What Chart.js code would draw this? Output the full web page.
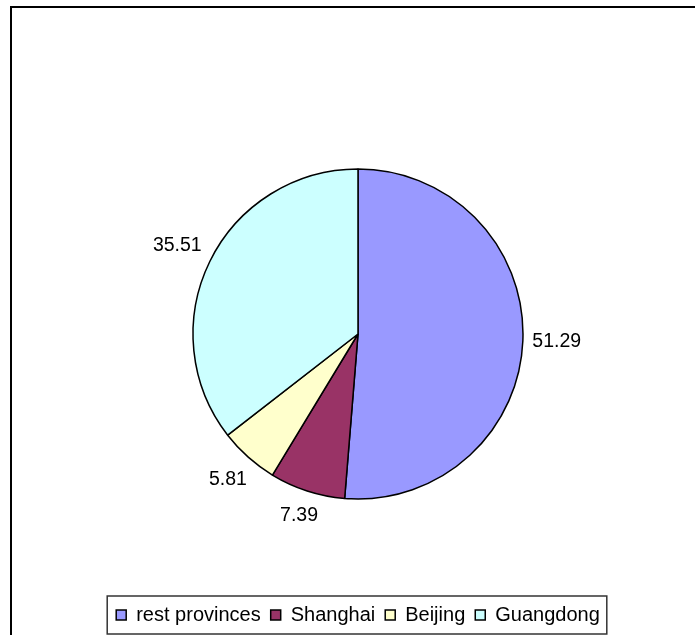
<!DOCTYPE html>
<html>
<head>
<meta charset="utf-8">
<script src="https://cdn.jsdelivr.net/npm/chart.js@4/dist/chart.umd.min.js"></script>
<style>
  body { margin: 0; background: #fff; }
  canvas { display: block; }
</style>
</head>
<body>
<canvas id="myChart" width="695" height="635"></canvas>
<script>
// shares by region (percent)
const regions = ['rest provinces', 'Shanghai', 'Beijing', 'Guangdong'];
const shares = [51.29, 7.39, 5.81, 35.51];
const colours = ['#9999FF', '#993366', '#FFFFCC', '#CCFFFF'];

const FONT = "'Liberation Sans', Arial, sans-serif";

//outer frame, like the excel chart border
const framePlugin = {
  id: 'frame',
  beforeDraw: (chart) => {
    const ctx = chart.ctx;
    ctx.save();
    ctx.fillStyle = '#fff';
    ctx.fillRect(0, 0, chart.width, chart.height);
    ctx.strokeStyle = '#000';
    ctx.lineWidth = 2;
    ctx.beginPath();
    ctx.moveTo(11, chart.height);
    ctx.lineTo(11, 7);
    ctx.lineTo(chart.width, 7);
    ctx.stroke();
    ctx.restore();
  }
};

//value labels outside each slice
const labelPlugin = {
  id: 'sliceLabels',
  afterDatasetsDraw: (chart) => {
    const ctx = chart.ctx;
    const meta = chart.getDatasetMeta(0);
    ctx.save();
    ctx.font = '19.5px ' + FONT;
    ctx.fillStyle = '#000';
    ctx.textAlign = 'center';
    ctx.textBaseline = 'middle';
    meta.data.forEach((arc, i) => {
      const p = arc.getProps(['x', 'y', 'startAngle', 'endAngle', 'outerRadius'], true);
      const mid = (p.startAngle + p.endAngle) / 2;
      const txt = shares[i].toFixed(2);
      const w = ctx.measureText(txt).width;
      const h = 24;
      const c = Math.cos(mid), s = Math.sin(mid);
      const r = p.outerRadius + 9 + Math.abs(c) * w / 2 + Math.abs(s) * h / 2;
      ctx.fillText(txt, p.x + c * r, p.y + s * r);
    });
    ctx.restore();
  }
};

//box round the legend
const legendBoxPlugin = {
  id: 'legendBox',
  afterDraw: (chart) => {
    const boxes = chart.legend.legendHitBoxes;
    if (!boxes || !boxes.length) return;
    const left = Math.min(...boxes.map(b => b.left)) - 9;
    const right = Math.max(...boxes.map(b => b.left + b.width)) + 7;
    const top = boxes[0].top - 9;
    const bottom = boxes[0].top + boxes[0].height + 9;
    const ctx = chart.ctx;
    ctx.save();
    ctx.strokeStyle = '#333';
    ctx.lineWidth = 1.5;
    ctx.strokeRect(left, top, right - left, bottom - top);
    ctx.restore();
  }
};

const data = {
  labels: regions,
  datasets: [{
    data: shares,
    backgroundColor: colours,
    borderColor: '#000',
    borderWidth: 1.5,
    radius: 165
  }]
};

const config = {
  type: 'pie',
  data: data,
  plugins: [framePlugin, labelPlugin, legendBoxPlugin],
  options: {
    responsive: false,
    animation: false,
    layout: {
      padding: { left: 21, right: 0, top: 73, bottom: 0 }
    },
    plugins: {
      tooltip: { enabled: false },
      legend: {
        position: 'bottom',
        labels: {
          boxWidth: 10,
          boxHeight: 10,
          padding: 10,
          color: '#000',
          font: { family: FONT, size: 20 }
        }
      }
    }
  }
};

const ctx = document.getElementById('myChart').getContext('2d');
const myChart = new Chart(ctx, config);
</script>
</body>
</html>
